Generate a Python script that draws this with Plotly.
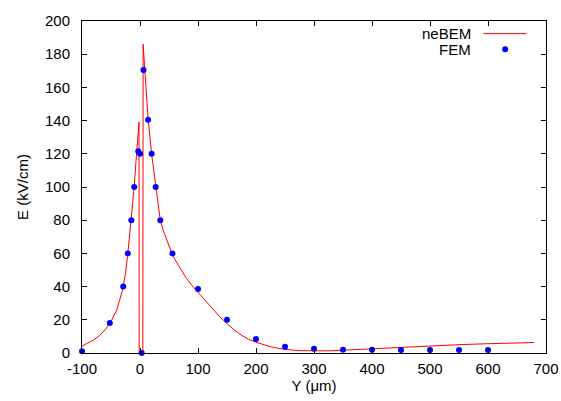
import plotly.graph_objects as go

# neBEM curve
nebem_x = [-100, -90, -80, -70, -60, -50, -40, -30, -25, -21, -15, -10, -7, -5, -3, -1.7, -1.4,
           4.9, 5.4, 6, 8, 10, 14, 20, 27, 35, 40, 45, 50, 55, 60, 70, 80, 90, 100, 112, 125,
           137, 150, 162, 175, 187, 200, 212, 225, 237, 250, 275, 300, 325, 350, 400, 450,
           500, 550, 600, 650, 680]
nebem_y = [4.2, 5.8, 7.8, 10.5, 14, 19, 26, 38, 48, 60, 80, 100, 115, 124, 133, 139, 0,
           0, 186, 183, 172, 161, 141, 120, 100, 80, 74, 69, 64.3, 60, 56.5, 50.5, 45, 40.5,
           36.5, 31.5, 26.5, 22, 17.7, 14, 10.7, 8.3, 6.5, 5, 3.8, 2.9, 2.2, 1.4, 1.2, 1.3,
           1.7, 2.6, 3.4, 4.2, 5.0, 5.6, 6.1, 6.3]

# FEM points
fem_x = [-100, -52, -29, -21, -15, -10, -3, 0, 3, 6, 14, 20, 27, 35, 56, 100, 150, 200,
         250, 300, 350, 400, 450, 500, 550, 600]
fem_y = [1, 18, 40, 60, 80, 100, 121.5, 120, 0, 170.5, 140.5, 120, 100, 80, 60, 38.5, 20, 8.5,
         3.8, 2.5, 2, 2, 1.8, 1.8, 1.8, 1.8]

x_ticks = [-100, 0, 100, 200, 300, 400, 500, 600, 700]
y_ticks = [0, 20, 40, 60, 80, 100, 120, 140, 160, 180, 200]

FONT = "Liberation Sans, Arial, sans-serif"
FS = 15

fig = go.Figure()
fig.add_trace(go.Scatter(x=nebem_x, y=nebem_y, mode="lines", name="neBEM",
                         line=dict(color="#ff0000", width=1, shape="linear"),
                         showlegend=False))
fig.add_trace(go.Scatter(x=fem_x, y=fem_y, mode="markers", name="FEM",
                         marker=dict(color="#0000ff", size=6), cliponaxis=False,
                         showlegend=False))

axis_common = dict(showline=True, linecolor="black", linewidth=1, mirror="ticks",
                   ticks="inside", ticklen=5, tickcolor="black", tickwidth=1,
                   showgrid=False, zeroline=False, automargin=False,
                   tickfont=dict(family=FONT, size=FS, color="black"))

fig.update_xaxes(range=[-100, 700], tickvals=x_ticks, ticktext=[str(v) for v in x_ticks],
                 title=dict(text="Y (μm)", font=dict(family=FONT, size=FS, color="black"),
                            standoff=0),
                 ticklabelstandoff=2, **axis_common)
fig.update_yaxes(range=[0, 200], tickvals=y_ticks, ticktext=[str(v) for v in y_ticks],
                 title=dict(text="E (kV/cm)", font=dict(family=FONT, size=FS, color="black"),
                            standoff=12),
                 ticklabelstandoff=8, **axis_common)

# gnuplot-style key: text left, sample right
fig.add_annotation(xref="paper", yref="paper", x=0.842, y=0.962, text="neBEM",
                   showarrow=False, xanchor="right", yanchor="middle",
                   font=dict(family=FONT, size=FS, color="black"))
fig.add_annotation(xref="paper", yref="paper", x=0.842, y=0.915, text="FEM",
                   showarrow=False, xanchor="right", yanchor="middle",
                   font=dict(family=FONT, size=FS, color="black"))
fig.add_shape(type="line", xref="paper", yref="paper", x0=0.865, x1=0.958, y0=0.962, y1=0.962,
              line=dict(color="#ff0000", width=1))
fig.add_shape(type="circle", xref="paper", yref="paper", xsizemode="pixel", ysizemode="pixel",
              xanchor=0.912, yanchor=0.915, x0=-3, x1=3, y0=-3, y1=3,
              fillcolor="#0000ff", line=dict(width=0))

fig.update_layout(width=561, height=401, margin=dict(l=82, r=15, t=21, b=48),
                  paper_bgcolor="white", plot_bgcolor="white",
                  font=dict(family=FONT, size=FS, color="black"))

fig.write_html("out.html")
